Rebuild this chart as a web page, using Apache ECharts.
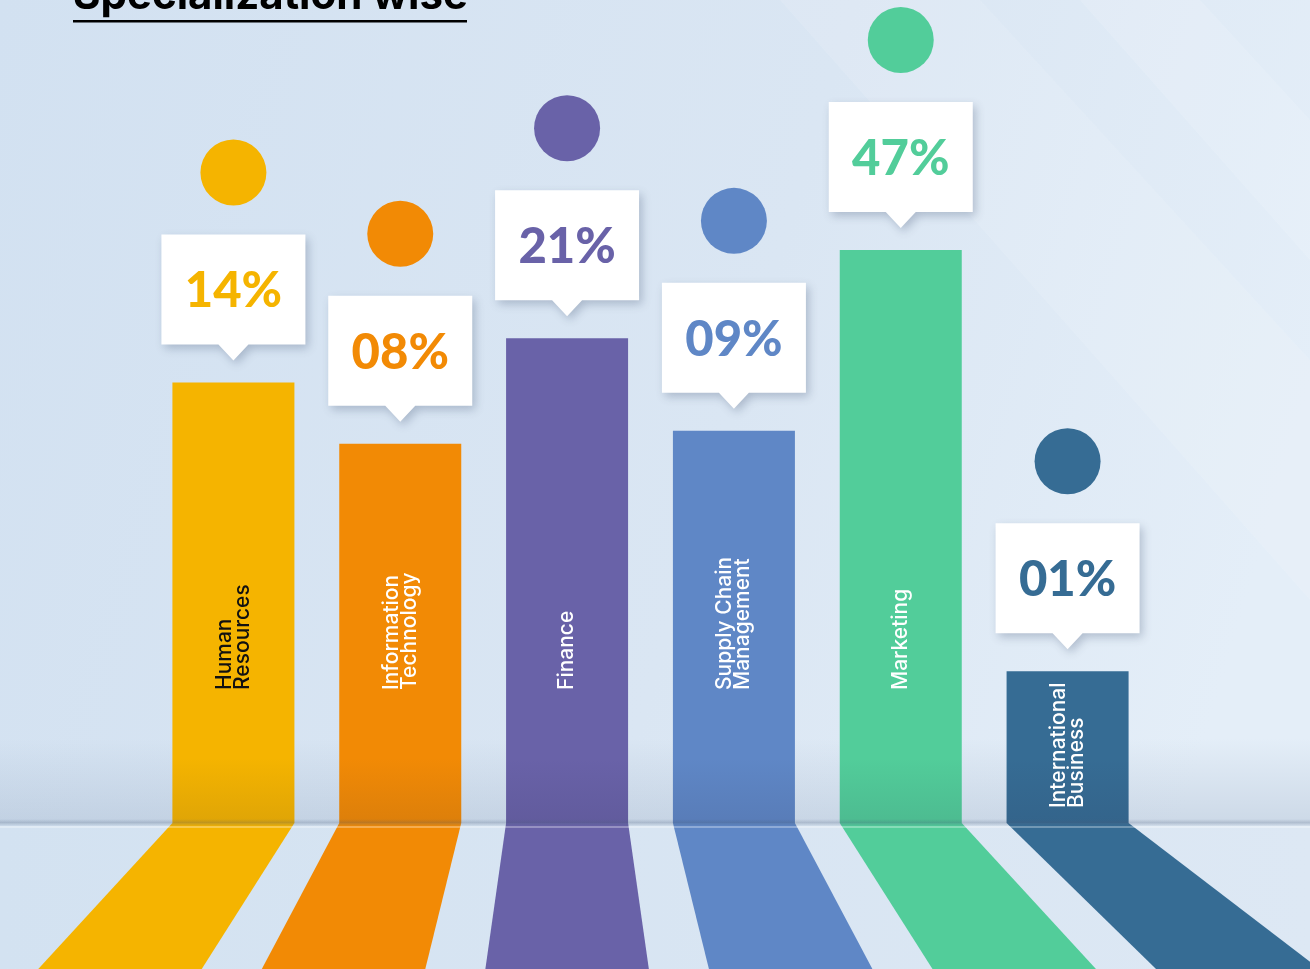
<!DOCTYPE html>
<html>
<head>
<meta charset="utf-8">
<script src="https://cdn.jsdelivr.net/npm/echarts@6/dist/echarts.min.js"></script>
<style>
  html, body { margin: 0; padding: 0; }
  #chart { width: 1310px; height: 969px; }
</style>
</head>
<body>
<div id="chart"></div>
<script>
// Specialization split of the batch
const categories = ['Human\nResources', 'Information\nTechnology', 'Finance', 'Supply Chain\nManagement', 'Marketing', 'International\nBusiness'];
const shares = [14, 8, 21, 9, 47, 1];
const shareLabels = ['14%', '08%', '21%', '09%', '47%', '01%'];
const barColors = ['#F5B400', '#F28A05', '#6962A8', '#5F87C6', '#52CD9A', '#366C94'];
const nameColors = ['#111111', '#ffffff', '#ffffff', '#ffffff', '#ffffff', '#ffffff'];

// layout constants
const W = 1310, H = 969;
const GRID_TOP = 250, GRID_BOTTOM = 146, GRID_LEFT = 150, GRID_RIGHT = 159;
const BASE_Y = H - GRID_BOTTOM;
const AXIS_MIN = 0.25, AXIS_MAX = 47;
const BAR_W = 122;
const VANISH_X = 567;     // horizontal centre of the floor perspective
const FLOOR_SPREAD = 0.34; // widening of the floor stripes per 146px
const FONT_UI = 'Inter, "Open Sans", sans-serif';
const FONT_NUM = 'Lato, "Open Sans", sans-serif';

const chart = echarts.init(document.getElementById('chart'), null, { renderer: 'canvas' });

const points = shares.map((v, i) => [i, v]);

function floorStripe(params, api) {
  const i = api.value(0);
  const base = api.coord([i, AXIS_MIN]);
  const cx = base[0], by = base[1];
  const yb = by + 260;
  const s = 1 + FLOOR_SPREAD * (yb - by) / 146;
  const xl = cx - BAR_W / 2, xr = cx + BAR_W / 2;
  return {
    type: 'polygon',
    shape: { points: [[xl, by], [xr, by], [VANISH_X + (xr - VANISH_X) * s, yb], [VANISH_X + (xl - VANISH_X) * s, yb]] },
    style: { fill: barColors[i] }
  };
}

function barItem(params, api) {
  const i = api.value(0);
  const top = api.coord([i, api.value(1)]);
  const base = api.coord([i, AXIS_MIN]);
  const cx = top[0], ty = top[1], by = base[1];
  const xl = cx - BAR_W / 2;
  const shadeTop = Math.max(ty, by - 65);
  const labelStart = Math.min(by - 15, Math.max(690, ty + 150));
  return {
    type: 'group',
    children: [
      { type: 'rect', shape: { x: xl, y: ty, width: BAR_W, height: by - ty }, style: { fill: barColors[i] } },
      {
        type: 'rect', shape: { x: xl, y: shadeTop, width: BAR_W, height: by - shadeTop },
        style: {
          fill: new echarts.graphic.LinearGradient(0, 0, 0, 1, [
            { offset: 0, color: 'rgba(30,30,60,0)' },
            { offset: 1, color: 'rgba(30,30,60,0.10)' }
          ])
        }
      },
      {
        type: 'text',
        x: cx, y: labelStart, rotation: Math.PI / 2,
        style: {
          text: categories[i], fill: nameColors[i],
          font: '500 21px ' + FONT_UI, lineHeight: 18,
          align: 'left', verticalAlign: 'middle'
        }
      }
    ]
  };
}

function calloutItem(params, api) {
  const i = api.value(0);
  const top = api.coord([i, api.value(1)]);
  const cx = top[0], ty = top[1];
  const tip = ty - 22, boxB = ty - 38, boxT = boxB - 110;
  const hw = 72;
  return {
    type: 'group',
    children: [
      {
        type: 'polygon',
        shape: { points: [[cx - hw, boxT], [cx + hw, boxT], [cx + hw, boxB], [cx + 15, boxB], [cx, tip], [cx - 15, boxB], [cx - hw, boxB]] },
        style: { fill: '#ffffff', shadowBlur: 10, shadowColor: 'rgba(50,70,100,0.28)', shadowOffsetX: 3, shadowOffsetY: 4 }
      },
      {
        type: 'text', x: cx, y: (boxT + boxB) / 2 + 2,
        style: { text: shareLabels[i], fill: barColors[i], font: '900 49px ' + FONT_NUM, align: 'center', verticalAlign: 'middle' }
      },
      { type: 'circle', shape: { cx: cx, cy: ty - 210, r: 33 }, style: { fill: barColors[i] } }
    ]
  };
}

const option = {
  backgroundColor: new echarts.graphic.LinearGradient(0, 0, 1, 0.4, [
    { offset: 0, color: '#d2e1f1' },
    { offset: 0.6, color: '#dae6f3' },
    { offset: 1, color: '#e4eef8' }
  ]),
  animation: false,
  grid: { top: GRID_TOP, bottom: GRID_BOTTOM, left: GRID_LEFT, right: GRID_RIGHT, containLabel: false },
  xAxis: {
    type: 'category', data: categories,
    axisLine: { show: false }, axisTick: { show: false }, axisLabel: { show: false }, splitLine: { show: false }
  },
  yAxis: {
    type: 'log', logBase: 10, min: AXIS_MIN, max: AXIS_MAX,
    axisLine: { show: false }, axisTick: { show: false }, axisLabel: { show: false }, splitLine: { show: false }
  },
  graphic: [
    // soft light streaks on the back wall
    { type: 'polygon', z: 0, silent: true, shape: { points: [[780, 0], [980, 0], [1310, 360], [1310, 600]] }, style: { fill: 'rgba(255,255,255,0.11)' } },
    { type: 'polygon', z: 0, silent: true, shape: { points: [[1080, 0], [1200, 0], [1310, 120], [1310, 260]] }, style: { fill: 'rgba(255,255,255,0.13)' } },
    // wall darkening towards the floor
    {
      type: 'rect', z: 0, silent: true, shape: { x: 0, y: BASE_Y - 85, width: W, height: 85 },
      style: { fill: new echarts.graphic.LinearGradient(0, 0, 0, 1, [
        { offset: 0, color: 'rgba(150,168,192,0)' },
        { offset: 1, color: 'rgba(150,168,192,0.30)' }
      ]) }
    },
    // floor
    {
      type: 'rect', z: 0, silent: true, shape: { x: 0, y: BASE_Y, width: W, height: H - BASE_Y },
      style: { fill: new echarts.graphic.LinearGradient(0, 0, 1, 0, [
        { offset: 0, color: '#d3e2f1' },
        { offset: 1, color: '#dde8f4' }
      ]) }
    },
    // floor edge
    {
      type: 'rect', z: 20, silent: true, shape: { x: 0, y: BASE_Y - 4, width: W, height: 7 },
      style: { fill: new echarts.graphic.LinearGradient(0, 0, 0, 1, [
        { offset: 0, color: 'rgba(70,90,120,0)' },
        { offset: 0.6, color: 'rgba(70,90,120,0.25)' },
        { offset: 1, color: 'rgba(70,90,120,0.05)' }
      ]) }
    },
    { type: 'rect', z: 20, silent: true, shape: { x: 0, y: BASE_Y + 3, width: W, height: 2 }, style: { fill: 'rgba(255,255,255,0.3)' } },
    // heading
    {
      type: 'text', z: 30, x: 73, y: 17,
      style: { text: 'Specialization wise', fill: '#000', font: '700 42px ' + FONT_UI, align: 'left', verticalAlign: 'bottom' }
    },
    { type: 'rect', z: 30, shape: { x: 73, y: 20, width: 394, height: 2.5 }, style: { fill: '#000' } }
  ],
  series: [
    { type: 'custom', name: 'floor', z: 1, silent: true, clip: false, data: points, encode: { x: 0, y: 1 }, renderItem: floorStripe },
    { type: 'custom', name: 'share', z: 3, silent: true, clip: false, data: points, encode: { x: 0, y: 1 }, renderItem: barItem },
    { type: 'custom', name: 'callout', z: 5, silent: true, clip: false, data: points, encode: { x: 0, y: 1 }, renderItem: calloutItem }
  ]
};

chart.setOption(option);
</script>
</body>
</html>
